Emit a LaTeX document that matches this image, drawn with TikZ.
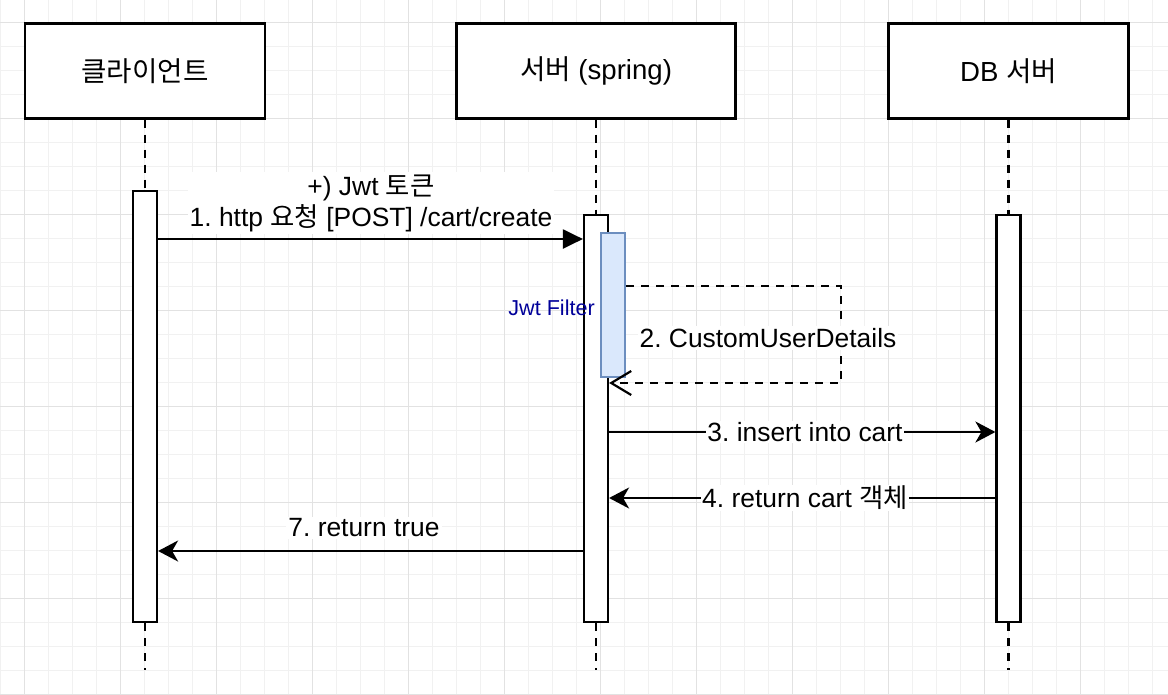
\documentclass[tikz,border=0pt]{standalone}
\usepackage{fontspec}
\setmainfont{Liberation Sans}
\newfontfamily\kr{Noto Sans CJK KR}
\usetikzlibrary{arrows.meta}
\frenchspacing
\definecolor{gridminor}{HTML}{F1F1F1}
\definecolor{gridmajor}{HTML}{E2E2E2}
\definecolor{jwtfill}{HTML}{DAE8FC}
\definecolor{jwttext}{HTML}{000099}
\definecolor{jwtdraw}{HTML}{6C8EBF}
\tikzset{
  base/.style={font=\fontsize{26.4}{31}\selectfont},
  head/.style={font=\fontsize{27.6}{32}\selectfont, draw=black, line width=2.2pt, fill=white, minimum width=240pt, minimum height=95pt, inner sep=0pt},
  actbar/.style={draw=black, line width=2.2pt, fill=white, minimum width=24pt, inner sep=0pt},
  jwtbar/.style={draw=jwtdraw, line width=2.2pt, fill=jwtfill, minimum width=24pt, minimum height=144pt, inner sep=0pt},
  life/.style={line width=2.2pt, dash pattern=on 8pt off 7pt},
  msg/.style={line width=2.2pt, -{Stealth[length=20pt,width=21pt,inset=6pt]}},
  blockmsg/.style={line width=2.2pt, -{Triangle[length=20pt,width=19pt]}},
  retmsg/.style={line width=2.2pt, dash pattern=on 8pt off 7pt, -{Straight Barb[length=20pt,width=24pt,line width=2.2pt]}},
  lbl/.style={base, fill=white, inner sep=2pt},
}
\begin{document}
\begin{tikzpicture}[x=1pt,y=-1pt]
\useasboundingbox (0,0) rectangle (1168,694);
% grid
\foreach \i in {0,24,...,1168} \draw[gridminor, line width=1pt] (\i,0) -- (\i,694);
\foreach \j in {-2,22,...,694} \draw[gridminor, line width=1pt] (0,\j) -- (1168,\j);
\foreach \i in {24,120,...,1168} \draw[gridmajor, line width=1pt] (\i,0) -- (\i,694);
\foreach \j in {22,118,...,694} \draw[gridmajor, line width=1pt] (0,\j) -- (1168,\j);

% heads
\node[head] (h1) at (145,71) {\kr 클라이언트};
\node[head, minimum width=279pt] (h2) at (596,71) {{\kr 서버} (spring)};
\node[head] (h3) at (1008.5,71) {DB {\kr 서버}};

% end coordinates
\coordinate (e1) at (145,670);
\coordinate (e2) at (596,670);
\coordinate (e3) at (1008.5,670);

% activation bars
\node[actbar, minimum height=431pt] (a1) at (145,406.5) {};
\node[actbar, minimum height=407pt] (a2) at (596,418.5) {};
\node[actbar, minimum height=407pt] (a3) at (1008.5,418.5) {};

% lifelines
\draw[life] (h1.south) -- (a1.north);
\draw[life] (a1.south) -- (e1);
\draw[life] (h2.south) -- (a2.north);
\draw[life] (a2.south) -- (e2);
\draw[life] (h3.south) -- (a3.north);
\draw[life] (a3.south) -- (e3);

% jwt filter
\node[jwtbar] (jwt) at (613,305) {};
\node[font=\fontsize{21.6}{25}\selectfont, text=jwttext, anchor=east, inner sep=0pt] (jwtl) at (595,308) {Jwt Filter};

% message y levels
\coordinate (m1) at (0,239);
\coordinate (m2a) at (0,286);
\coordinate (m2b) at (841,383);
\coordinate (m3) at (0,432);
\coordinate (m4) at (0,498);
\coordinate (m7) at (0,551);

% 1
\draw[blockmsg] (a1.east |- m1) -- (a2.west |- m1);
\node[lbl, align=center] (l1) at (371,203) {+) Jwt {\kr 토큰}\\1. http {\kr 요청} [POST] /cart/create};

% 2
\draw[retmsg] (jwt.east |- m2a) -| (m2b) -- (a2.east |- m2b);
\node[lbl] (l2) at (768,338) {2. CustomUserDetails};

% 3
\draw[msg] (a2.east |- m3) -- (a3.west |- m3);
\node[lbl, inner sep=1pt] (l3) at (805,432) {3. insert into cart};

% 4
\draw[msg] (a3.west |- m4) -- (a2.east |- m4);
\node[lbl, inner sep=1pt] (l4) at (805,498) {4. return cart {\kr 객체}};

% 7
\draw[msg] (a2.west |- m7) -- (a1.east |- m7);
\node[lbl] (l7) at (364,528) {7. return true};
\end{tikzpicture}
\end{document}
